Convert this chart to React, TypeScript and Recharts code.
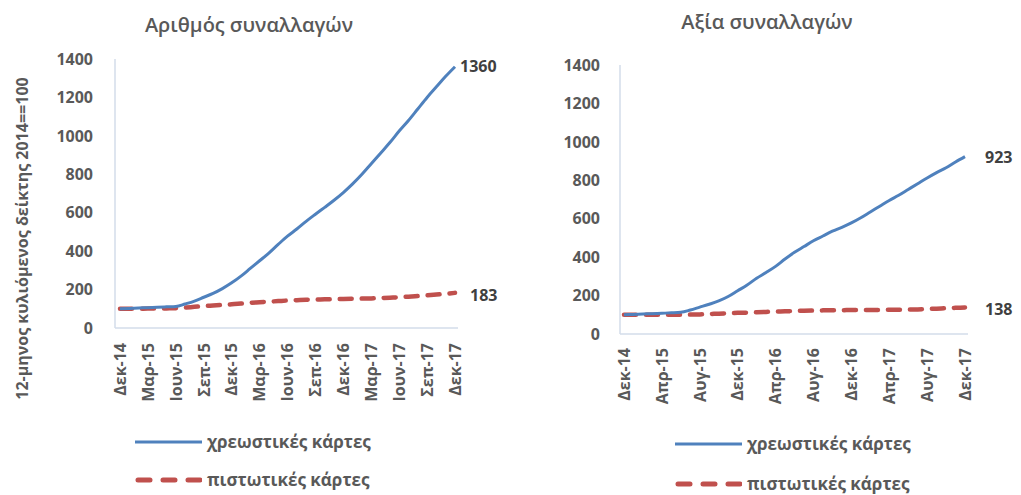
import { Line, LineChart, XAxis, YAxis } from 'recharts';

const months = [
  'Δεκ-14', 'Ιαν-15', 'Φεβ-15', 'Μαρ-15', 'Απρ-15', 'Μαϊ-15', 'Ιουν-15', 'Ιουλ-15', 'Αυγ-15', 'Σεπ-15', 'Οκτ-15', 'Νοε-15',
  'Δεκ-15', 'Ιαν-16', 'Φεβ-16', 'Μαρ-16', 'Απρ-16', 'Μαϊ-16', 'Ιουν-16', 'Ιουλ-16', 'Αυγ-16', 'Σεπ-16', 'Οκτ-16', 'Νοε-16',
  'Δεκ-16', 'Ιαν-17', 'Φεβ-17', 'Μαρ-17', 'Απρ-17', 'Μαϊ-17', 'Ιουν-17', 'Ιουλ-17', 'Αυγ-17', 'Σεπ-17', 'Οκτ-17', 'Νοε-17',
  'Δεκ-17',
];

// Αριθμός συναλλαγών
const countDebit = [
  100, 102, 104, 106, 108, 110, 112, 125, 140, 160, 180, 205, 235, 270, 310, 350, 390, 435, 478, 515, 555, 592, 628, 665,
  705, 750, 800, 855, 910, 965, 1025, 1080, 1140, 1200, 1255, 1310, 1360,
];
const countCredit = [
  100, 100, 100, 101, 101, 102, 103, 106, 110, 114, 117, 120, 123, 127, 131, 134, 137, 140, 143, 145, 147, 148, 149, 150,
  151, 152, 153, 154, 156, 158, 160, 163, 166, 170, 174, 178, 183,
];

// Αξία συναλλαγών
const valueDebit = [
  100, 102, 104, 106, 108, 110, 113, 125, 140, 155, 172, 195, 225, 255, 290, 320, 352, 390, 425, 455, 485, 510, 535, 555,
  578, 605, 635, 665, 695, 722, 752, 782, 812, 840, 865, 895, 923,
];
const valueCredit = [
  100, 100, 100, 100, 100, 100, 100, 101, 102, 104, 106, 108, 110, 111, 113, 115, 117, 118, 120, 121, 122, 123, 124, 124,
  125, 125, 125, 125, 126, 126, 127, 128, 130, 132, 134, 136, 138,
];

const yTicks = [0, 200, 400, 600, 800, 1000, 1200, 1400];

const BLUE = '#4F81BD';
const RED = '#C0504D';
const INK = '#595959';
const AXIS = '#D3DCEA';
const FONT = '"Open Sans", "Noto Sans", sans-serif';

const countData = months.map((m, i) => ({ m, debit: countDebit[i], credit: countCredit[i] }));
const valueData = months.map((m, i) => ({ m, debit: valueDebit[i], credit: valueCredit[i] }));

// eslint-disable-next-line @typescript-eslint/no-explicit-any
function MonthTick(props: any) {
  const { x, y, payload } = props;
  return (
    <text
      x={x}
      y={y}
      transform={`rotate(-90 ${x} ${y})`}
      textAnchor="end"
      dy="0.36em"
      fill={INK}
      fontSize={16}
      fontWeight={700}
      fontFamily={FONT}
    >
      {payload.value}
    </text>
  );
}

function endLabel(dx: number, dy: number) {
  // eslint-disable-next-line @typescript-eslint/no-explicit-any
  return (props: any) => {
    if (props.index !== months.length - 1) return null;
    return (
      <text
        x={props.x + dx}
        y={props.y + dy}
        dy="0.36em"
        fill="#404040"
        fontSize={16}
        fontWeight={700}
        fontFamily={FONT}
      >
        {props.value}
      </text>
    );
  };
}

function LegendBox({ left, top, gap }: { left: number; top: number; gap: number }) {
  const text = {
    fontFamily: FONT,
    fontSize: 17,
    fontWeight: 700,
    color: INK,
    marginLeft: 5,
    whiteSpace: 'nowrap' as const,
    lineHeight: '22px',
  };
  return (
    <div style={{ position: 'absolute', left, top }}>
      <div style={{ display: 'flex', alignItems: 'center', height: 22 }}>
        <svg width={67} height={10}>
          <line x1={0} y1={5} x2={67} y2={5} stroke={BLUE} strokeWidth={3} />
        </svg>
        <span style={text}>χρεωστικές κάρτες</span>
      </div>
      <div style={{ display: 'flex', alignItems: 'center', height: 22, marginTop: gap }}>
        <svg width={67} height={10}>
          <line x1={3} y1={5} x2={67} y2={5} stroke={RED} strokeWidth={5} strokeDasharray="12 13" strokeLinecap="round" />
        </svg>
        <span style={text}>πιστωτικές κάρτες</span>
      </div>
    </div>
  );
}

const titleStyle = {
  position: 'absolute' as const,
  width: 300,
  textAlign: 'center' as const,
  fontFamily: FONT,
  fontSize: 20,
  fontWeight: 600,
  color: INK,
  lineHeight: '26px',
};

export default function App() {
  return (
    <div style={{ position: 'absolute', left: 0, top: 0, width: 1021, height: 495, background: '#fff', overflow: 'hidden' }}>
      <div style={{ ...titleStyle, left: 99, top: 12 }}>Αριθμός συναλλαγών</div>
      <div style={{ ...titleStyle, left: 617, top: 9 }}>Αξία συναλλαγών</div>

      <div style={{ position: 'absolute', left: 0, top: 0 }}>
        <LineChart width={520} height={420} data={countData} margin={{ top: 59, right: 62, bottom: 22, left: 35 }}>
          <XAxis
            dataKey="m"
            interval={2}
            tick={<MonthTick />}
            tickLine={false}
            tickSize={0}
            tickMargin={15}
            height={70}
            padding={{ left: 5, right: 3 }}
            axisLine={{ stroke: AXIS, strokeWidth: 1.5 }}
          />
          <YAxis
            domain={[0, 1400]}
            ticks={yTicks}
            width={80}
            tickLine={false}
            tickSize={0}
            tickMargin={22}
            axisLine={{ stroke: AXIS, strokeWidth: 1.5 }}
            tick={{ fill: INK, fontSize: 16, fontWeight: 700, fontFamily: FONT }}
            label={{
              value: '12-μηνος κυλιόμενος δείκτης 2014==100',
              angle: -90,
              position: 'left',
              offset: 13,
              dy: 45,
              style: { fill: INK, fontSize: 16, fontWeight: 700, fontFamily: FONT, textAnchor: 'middle' },
            }}
          />
          <Line
            type="monotone"
            dataKey="credit"
            stroke={RED}
            strokeWidth={4.5}
            strokeDasharray="12 10"
            strokeLinecap="round"
            dot={false}
            isAnimationActive={false}
            label={endLabel(15, 2)}
          />
          <Line
            type="monotone"
            dataKey="debit"
            stroke={BLUE}
            strokeWidth={3}
            dot={false}
            isAnimationActive={false}
            label={endLabel(5, 0)}
          />
        </LineChart>
      </div>

      <div style={{ position: 'absolute', left: 520, top: 0 }}>
        <LineChart width={501} height={420} data={valueData} margin={{ top: 65, right: 53, bottom: 22, left: 20 }}>
          <XAxis
            dataKey="m"
            interval={3}
            tick={<MonthTick />}
            tickLine={false}
            tickSize={0}
            tickMargin={14}
            height={64}
            padding={{ left: 4, right: 3 }}
            axisLine={{ stroke: AXIS, strokeWidth: 1.5 }}
          />
          <YAxis
            domain={[0, 1400]}
            ticks={yTicks}
            width={80}
            tickLine={false}
            tickSize={0}
            tickMargin={20}
            axisLine={{ stroke: AXIS, strokeWidth: 1.5 }}
            tick={{ fill: INK, fontSize: 16, fontWeight: 700, fontFamily: FONT }}
          />
          <Line
            type="monotone"
            dataKey="credit"
            stroke={RED}
            strokeWidth={4.5}
            strokeDasharray="12 10"
            strokeLinecap="round"
            dot={false}
            isAnimationActive={false}
            label={endLabel(20, 2)}
          />
          <Line
            type="monotone"
            dataKey="debit"
            stroke={BLUE}
            strokeWidth={3}
            dot={false}
            isAnimationActive={false}
            label={endLabel(20, 1)}
          />
        </LineChart>
      </div>

      <LegendBox left={135} top={431} gap={16} />
      <LegendBox left={675} top={433} gap={18} />
    </div>
  );
}
